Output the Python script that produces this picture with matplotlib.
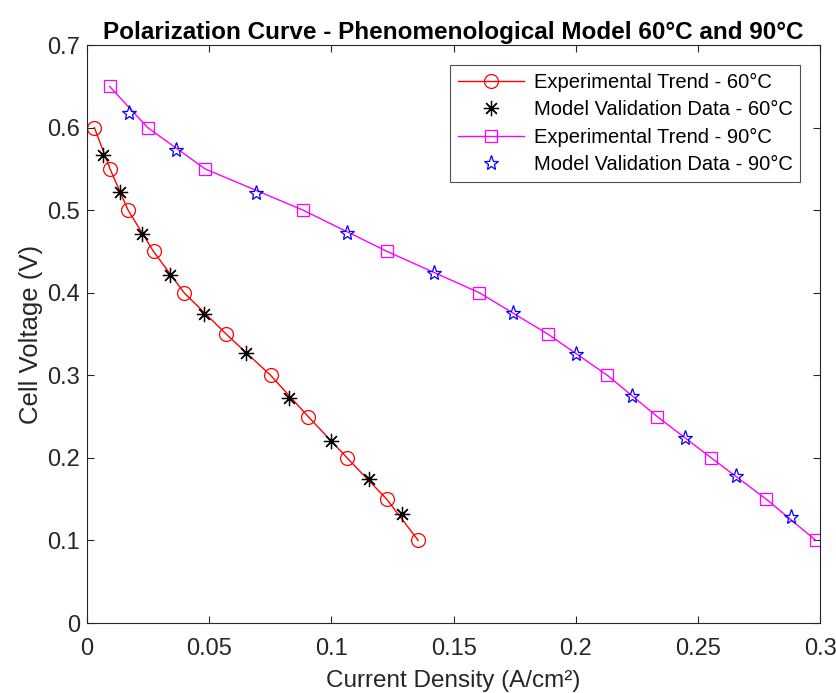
import numpy as np
import matplotlib
matplotlib.use("Agg")
from matplotlib import pyplot as plt

# experimental trend, 60 C
j_exp60 = [0.0030, 0.0094, 0.0168, 0.0272, 0.0397, 0.0569, 0.0751, 0.0905, 0.1064, 0.1226, 0.1355]
v_exp60 = [0.60, 0.55, 0.50, 0.45, 0.40, 0.35, 0.30, 0.25, 0.20, 0.15, 0.10]

# model validation points, 60 C
j_mod60 = [0.0067, 0.0133, 0.0225, 0.0338, 0.0479, 0.0651, 0.0827, 0.0997, 0.1152, 0.1287]
v_mod60 = [0.567, 0.522, 0.471, 0.421, 0.374, 0.327, 0.273, 0.221, 0.174, 0.132]

# experimental trend, 90 C
j_exp90 = [0.0092, 0.0248, 0.0483, 0.0884, 0.1228, 0.1605, 0.1885, 0.2129, 0.2333, 0.2554, 0.2779, 0.2982]
v_exp90 = [0.65, 0.60, 0.55, 0.50, 0.45, 0.40, 0.35, 0.30, 0.25, 0.20, 0.15, 0.10]

# model validation points, 90 C
j_mod90 = [0.0170, 0.0362, 0.0692, 0.1064, 0.1418, 0.1744, 0.2002, 0.2231, 0.2448, 0.2656, 0.2882]
v_mod90 = [0.618, 0.573, 0.521, 0.472, 0.424, 0.375, 0.326, 0.275, 0.224, 0.178, 0.128]

xtick_labels = ['0', '0.05', '0.1', '0.15', '0.2', '0.25', '0.3']
ytick_labels = ['0', '0.1', '0.2', '0.3', '0.4', '0.5', '0.6', '0.7']

plt.rcParams['font.family'] = ['Liberation Sans', 'DejaVu Sans']

fig = plt.figure(figsize=(8.37, 6.93), dpi=100)
ax = fig.add_axes([0.104, 0.101, 0.876, 0.834])

ax.plot(j_exp60, v_exp60, '-o', color='red', mfc='none', ms=10, lw=1.0, mew=0.9,
        label='Experimental Trend - 60°C')
ax.plot(j_mod60, v_mod60, ls='none', marker=(8, 2, 0), color='black', ms=11, mew=0.9,
        label='Model Validation Data - 60°C')
ax.plot(j_exp90, v_exp90, '-s', color='magenta', mfc='none', ms=8, lw=1.0, mew=0.9,
        label='Experimental Trend - 90°C')
ax.plot(j_mod90, v_mod90, ls='none', marker='*', color='blue', mfc='none', ms=11, mew=0.9,
        label='Model Validation Data - 90°C')

ax.set_xlim(0, 0.3)
ax.set_ylim(0, 0.7)
ax.set_xticks(np.arange(0, 0.301, 0.05))
ax.set_xticklabels(xtick_labels)
ax.set_yticks(np.arange(0, 0.701, 0.1))
ax.set_yticklabels(ytick_labels)

gray = '#262626'
for s in ax.spines.values():
    s.set_color(gray)
    s.set_linewidth(0.8)
ax.tick_params(direction='in', top=True, right=True, colors=gray, labelsize=17,
               length=5, width=0.8)
ax.tick_params(axis='x', pad=11)
ax.tick_params(axis='y', pad=5)

ax.set_title('Polarization Curve - Phenomenological Model 60°C and 90°C',
             fontsize=17.5, fontweight='bold', pad=4.5)
ax.set_xlabel('Current Density (A/cm²)', fontsize=17.5, color=gray, labelpad=7)
ax.set_ylabel('Cell Voltage (V)', fontsize=18.5, color=gray, labelpad=3)

leg = ax.legend(loc='upper right', bbox_to_anchor=(0.973, 0.966), fontsize=14.5,
                frameon=True, fancybox=False, edgecolor=gray, handlelength=3.3,
                borderpad=0.4, labelspacing=0.42, handletextpad=0.45,
                borderaxespad=0)
leg.get_frame().set_linewidth(0.8)

fig.savefig('out.png', dpi=100)
